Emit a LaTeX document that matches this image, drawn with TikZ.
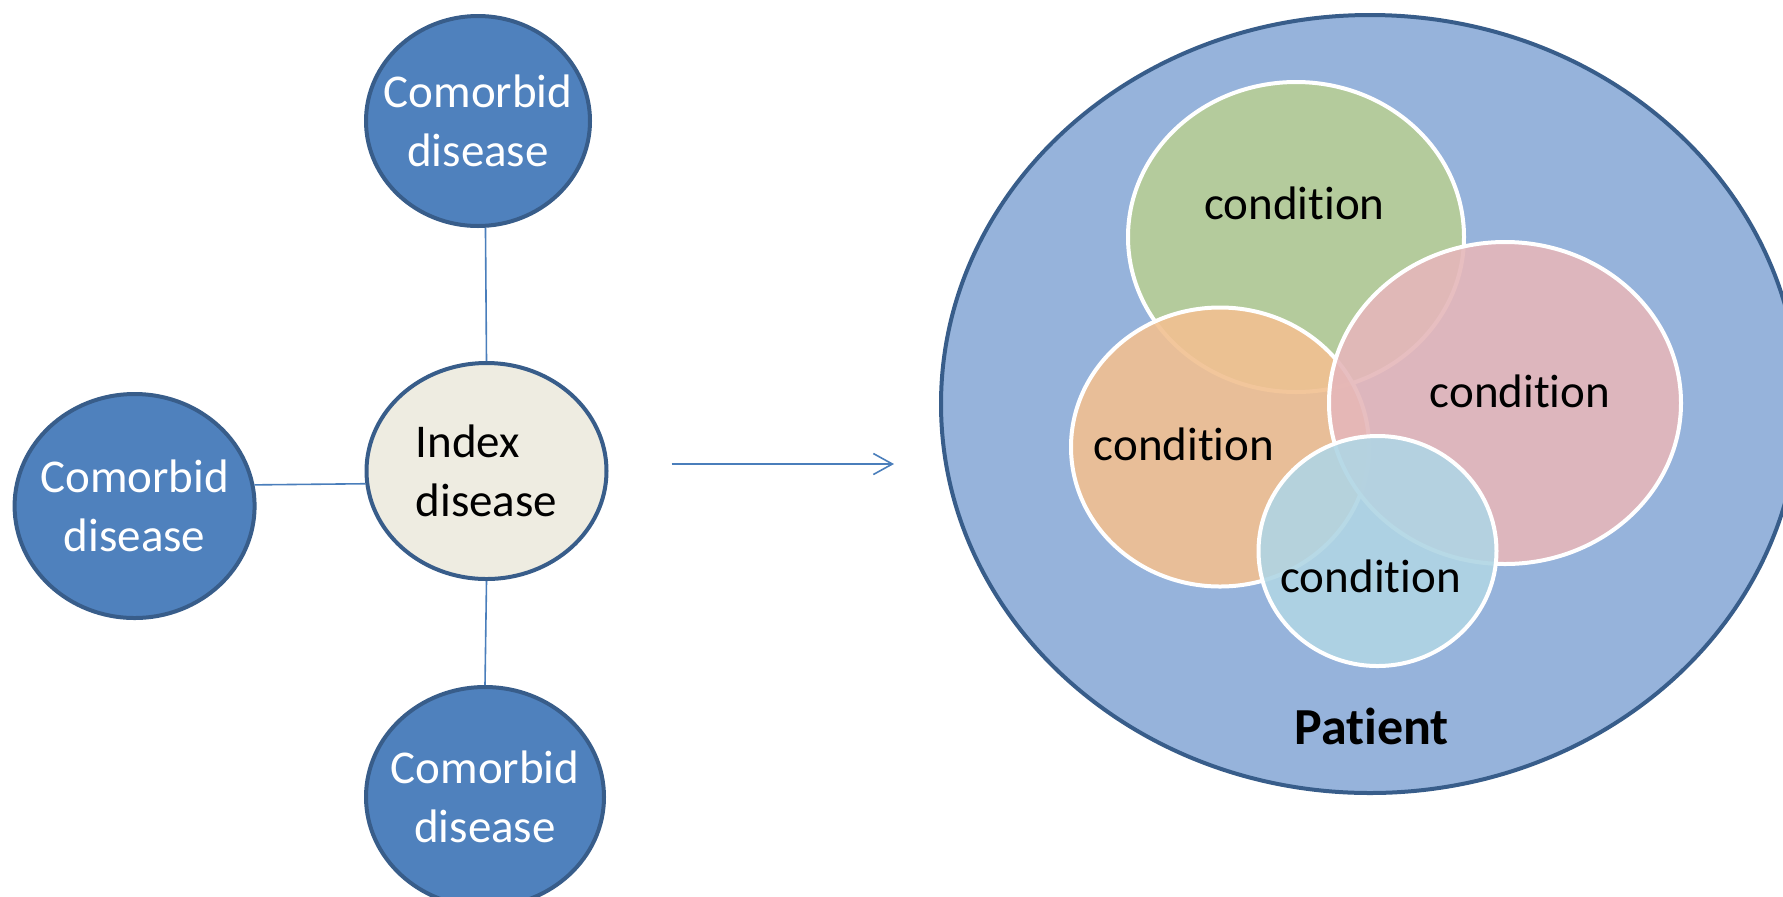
\documentclass[tikz,border=0pt]{standalone}
\usepackage{fontspec}
\setmainfont{Carlito}[Ligatures={NoCommon}]
\usetikzlibrary{arrows.meta,shapes.geometric}
\definecolor{obfill}{HTML}{4F81BD}
\definecolor{obdraw}{HTML}{385D8A}
\definecolor{idxfill}{HTML}{EEECE1}
\definecolor{lnc}{HTML}{4A7EBB}
\definecolor{patfill}{RGB}{150,179,219}
\definecolor{cgreen}{RGB}{184,206,150}
\definecolor{corange}{RGB}{241,192,145}
\definecolor{cpink}{RGB}{229,183,186}
\definecolor{cblue}{RGB}{176,213,228}
\begin{document}
\begin{tikzpicture}[x=0.5pt,y=-0.5pt,
  txt/.style={font=\fontsize{23.5}{29.5}\selectfont},
  como/.style={ellipse, draw=obdraw, line width=2pt, fill=obfill, text=white,
    inner xsep=-14pt, inner ysep=0pt, align=center, txt},
  idxs/.style={ellipse, draw=obdraw, line width=2pt, fill=idxfill, text=black,
    inner xsep=-14pt, inner ysep=0pt, align=left, txt},
  link/.style={draw=lnc, line width=0.8pt},
  cond/.style={ellipse, draw=white, line width=2pt, fill opacity=0.9, inner sep=0pt},
  condtxt/.style={txt, anchor=base, inner sep=0pt},
  patient/.style={ellipse, draw=obdraw, line width=2pt, fill=patfill, inner sep=0pt}]
\useasboundingbox (0,0) rectangle (1783,896);
\clip (0,0) rectangle (1783,896);
% left part
\node[como, minimum width=112pt, minimum height=105pt] (top) at (478,121) {Comorbid\\disease};
\node[como, minimum width=120pt, minimum height=112pt] (left) at (134.6,506) {Comorbid\\disease};
\node[idxs, minimum width=120pt, minimum height=108pt] (idx) at (486.5,471) {Index\\disease};
\node[como, minimum width=119pt, minimum height=110pt] (bot) at (485,797) {Comorbid\\disease};
\draw[link] (top.-86) -- (idx.90);
\draw[link] (left.10) -- (idx.186);
\draw[link] (idx.-90) -- (bot.90);
% arrow
\coordinate (a1) at (671.6,464);
\coordinate (a2) at (894,464);
\draw[link, -{Straight Barb[length=9.5pt,width=10.5pt,line width=0.8pt]}] (a1) -- (a2);
% right part
\node[patient, minimum width=429pt, minimum height=389pt] (pat) at (1370,404) {};
\node[cond, fill=cgreen, minimum width=168pt, minimum height=155pt] (cg) at (1296,237) {};
\node[cond, fill=corange, minimum width=149pt, minimum height=139.5pt] (co) at (1220,447) {};
\node[cond, fill=cpink, minimum width=176pt, minimum height=161pt] (cp) at (1505,403) {};
\node[cond, fill=cblue, minimum width=119pt, minimum height=115pt] (cb) at (1377.5,551) {};
\node[condtxt] (tg) at (1294.5,219) {condition};
\node[condtxt] (to) at (1184,460) {condition};
\node[condtxt] (tp) at (1520,407) {condition};
\node[condtxt] (tb) at (1370.7,592.6) {condition};
\node[anchor=base, inner sep=0pt, font=\fontsize{26}{30}\selectfont\bfseries] (tpat) at (1371.8,744.6) {Patient};
\end{tikzpicture}
\end{document}
